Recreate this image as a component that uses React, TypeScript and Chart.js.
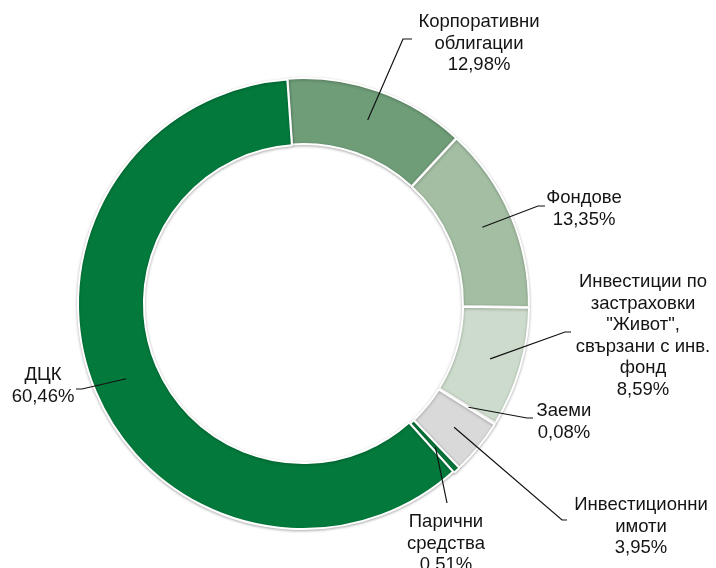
import React, { useEffect, useRef } from "react";
import { Chart, registerables } from "chart.js";

Chart.register(...registerables);

// ---- data ----
const categories: string[][] = [
  ["Корпоративни", "облигации"],
  ["Фондове"],
  ["Инвестиции по", "застраховки", "\"Живот\",", "свързани с инв.", "фонд"],
  ["Заеми"],
  ["Инвестиционни", "имоти"],
  ["Парични", "средства"],
  ["ДЦК"],
];
const shares: number[] = [12.98, 13.35, 8.59, 0.08, 3.95, 0.51, 60.46];

// ---- styles ----
const colors = ["#6f9d78", "#a3bea2", "#ccdbcb", "#c9d7c8", "#d9d9d9", "#087a3c", "#037a3c"];
const offsets = [3, 3, 3, 3, 3, 3, 0];

// label placement: text centre x, first baseline y, leader elbow & end points
const LAYOUT = [
  { cx: 479, by: 27, elbow: [403, 39], end: [412, 39] },
  { cx: 584, by: 203, elbow: [538, 206], end: [545, 206] },
  { cx: 643, by: 287, elbow: [565, 332], end: [571, 332] },
  { cx: 564, by: 416, elbow: [527, 418], end: [533, 418] },
  { cx: 641, by: 510, elbow: [562, 520], end: [567, 520] },
  { cx: 446, by: 527, elbow: [447, 503], end: [447, 503] },
  { cx: 43, by: 380, elbow: [82, 389], end: [76, 389] },
];
const LINE_H = 21.5;

const fmt = (v: number) => v.toFixed(2).replace(".", ",") + "%";

const leaderLabels = {
  id: "leaderLabels",
  beforeDatasetsDraw(chart: any) {
    const ctx = chart.ctx as CanvasRenderingContext2D;
    ctx.save();
    ctx.shadowColor = "rgba(0,0,0,0.28)";
    ctx.shadowBlur = 3;
    ctx.shadowOffsetX = 0;
    ctx.shadowOffsetY = 1;
  },
  afterDatasetsDraw(chart: any) {
    const ctx = chart.ctx as CanvasRenderingContext2D;
    ctx.restore();
    const meta = chart.getDatasetMeta(0);
    ctx.save();
    meta.data.forEach((arc: any, i: number) => {
      const p = arc.getProps(["x", "y", "startAngle", "endAngle", "innerRadius", "outerRadius"], true);
      const mid = (p.startAngle + p.endAngle) / 2;
      const r = (p.innerRadius + p.outerRadius) / 2 + offsets[i];
      const ax = p.x + Math.cos(mid) * r;
      const ay = p.y + Math.sin(mid) * r;
      const L = LAYOUT[i];
      ctx.strokeStyle = "#111";
      ctx.lineWidth = 1.2;
      ctx.beginPath();
      ctx.moveTo(ax, ay);
      ctx.lineTo(L.elbow[0], L.elbow[1]);
      ctx.lineTo(L.end[0], L.end[1]);
      ctx.stroke();

      const lines = [...categories[i], fmt(shares[i])];
      ctx.font = '18.5px "Liberation Sans", Arial, sans-serif';
      ctx.fillStyle = "#141414";
      ctx.textAlign = "center";
      ctx.textBaseline = "alphabetic";
      lines.forEach((t, k) => ctx.fillText(t, L.cx, L.by + k * LINE_H));
    });
    ctx.restore();
  },
};

export default function App() {
  const ref = useRef<HTMLCanvasElement | null>(null);
  useEffect(() => {
    if (!ref.current) return;
    const chart = new Chart(ref.current, {
      type: "doughnut",
      data: {
        labels: categories.map((c) => c.join(" ")),
        datasets: [
          {
            data: shares,
            backgroundColor: colors,
            borderColor: "#ffffff",
            borderWidth: 2,
            offset: offsets,
          },
        ],
      },
      options: {
        responsive: false,
        animation: false,
        devicePixelRatio: 1,
        rotation: -4,
        radius: 225,
        cutout: "70.7%",
        layout: { padding: { left: 0, right: 110, top: 40, bottom: 0 } },
        plugins: { legend: { display: false }, tooltip: { enabled: false } },
      },
      plugins: [leaderLabels],
    });
    return () => chart.destroy();
  }, []);
  return (
    <div style={{ position: "absolute", left: 0, top: 0, width: 716, height: 568, background: "#fff" }}>
      <canvas ref={ref} width={716} height={568} />
    </div>
  );
}
